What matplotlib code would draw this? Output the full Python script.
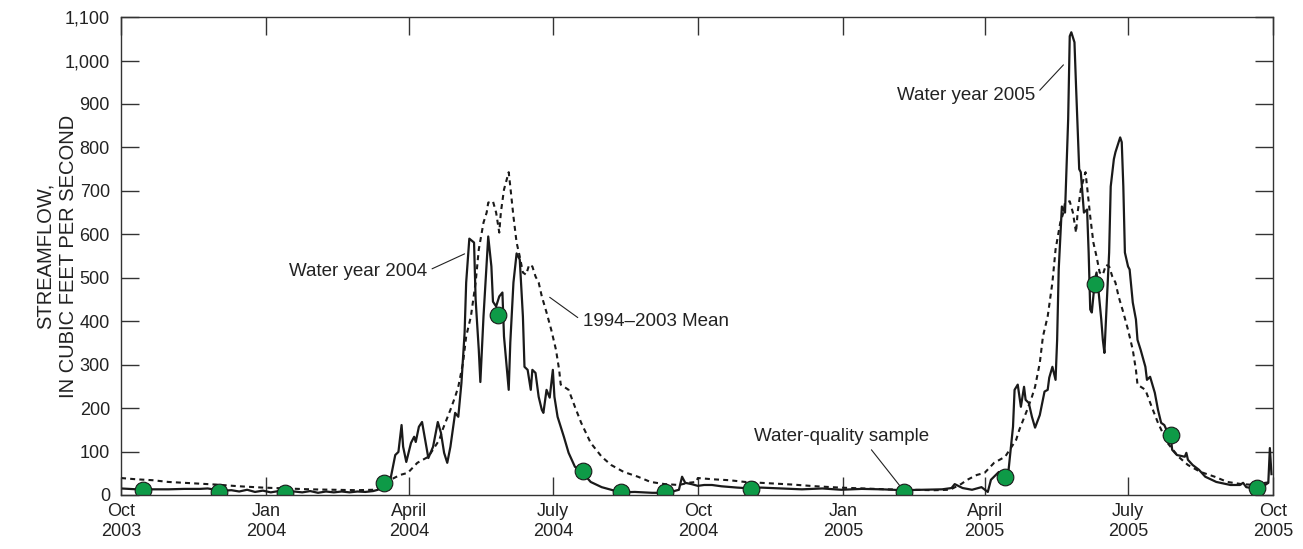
import numpy as np
import matplotlib
matplotlib.use('Agg')
import matplotlib.pyplot as plt
from matplotlib.ticker import FuncFormatter

plt.rcParams['font.family'] = ['Liberation Sans', 'DejaVu Sans']

start = np.datetime64('2003-10-01')

# daily streamflow, water years 2004-2005 (days after Oct 1, 2003)
flow_days = [0, 5, 10, 20, 30, 40, 50, 55, 60, 65, 70, 75, 80, 85, 90, 95, 100, 105, 110,
             115, 120, 125, 130, 135, 140, 145, 150, 155, 160, 163, 167, 171, 174, 176,
             178, 179, 181, 184, 186, 187, 189, 191, 193, 195, 198, 201, 203, 205, 207,
             209, 212, 214, 216, 218, 219, 221, 223, 224, 225, 227, 228, 230, 233, 235,
             236, 238, 240, 242, 243, 246, 247, 249, 251, 253, 255, 256, 258, 260, 261,
             263, 265, 267, 268, 270, 272, 274, 275, 277, 281, 284, 288, 293, 298, 305,
             311, 317, 326, 337, 345, 349, 354, 356, 358, 362, 366, 370, 375, 381, 391,
             400, 406, 419, 432, 445, 457, 470, 483, 496, 508, 521, 527, 529, 534, 540,
             546, 550, 552, 555, 557, 560, 563, 566, 567, 569, 571, 573, 574, 576, 578,
             580, 583, 586, 588, 589, 591, 593, 594, 595, 597, 599, 601, 602, 603, 605,
             606, 608, 609, 610, 611, 613, 614, 615, 616, 618, 619, 620, 622, 623, 624,
             625, 627, 628, 630, 631, 634, 635, 636, 637, 639, 640, 642, 644, 645, 647,
             650, 651, 653, 656, 658, 660, 662, 664, 666, 667, 670, 675, 676, 677, 680,
             684, 688, 695, 704, 710, 712, 714, 721, 726, 728, 729, 730]
flow_cfs = [15, 14, 13, 13, 13, 14, 14, 15, 12, 10, 11, 8, 12, 7, 10, 6, 9, 5, 8,
            6, 9, 5, 8, 6, 8, 6, 8, 7, 9, 12, 28, 37, 92, 99,
            161, 111, 76, 120, 134, 122, 157, 168, 127, 85, 111, 168, 143, 97, 74,
            111, 189, 180, 258, 373, 489, 590, 584, 581, 450, 334, 260, 411, 595, 526,
            445, 434, 457, 466, 365, 242, 351, 489, 556, 542, 411, 295, 288, 242, 288,
            281, 226, 196, 189, 242, 224, 288, 226, 180, 134, 97, 65, 51, 30, 18,
            12, 6, 7, 5, 5, 7, 12, 42, 28, 25, 21, 23, 23, 20, 17,
            15, 17, 15, 13, 15, 12, 14, 13, 11, 12, 13, 16, 25, 16, 12,
            18, 7, 35, 46, 53, 42, 51, 157, 242, 254, 203, 249, 219, 212, 180,
            155, 184, 238, 242, 270, 295, 265, 357, 519, 664, 650, 865, 1056, 1065, 1042,
            941, 750, 743, 697, 650, 657, 558, 427, 420, 496, 512, 480, 404, 357, 327,
            404, 558, 710, 773, 789, 823, 812, 710, 558, 526, 519, 443, 404, 357, 334,
            295, 265, 272, 235, 196, 166, 161, 145, 136, 104, 92, 88, 97, 81, 69,
            58, 42, 30, 23, 23, 28, 18, 14, 23, 28, 108, 48]

# 1994-2003 mean daily flow (day of water year)
mean_days = [0, 10, 20, 30, 45, 60, 75, 90, 105, 120, 135, 150, 160, 167, 171, 177, 182,
             188, 195, 202, 204, 209, 212, 214, 217, 219, 222, 225, 227, 230, 232, 233,
             236, 238, 240, 241, 243, 246, 247, 249, 251, 253, 255, 257, 259, 261, 263,
             265, 267, 270, 273, 276, 278, 279, 284, 288, 292, 298, 305, 311, 319, 328,
             336, 345, 354, 360, 365]
mean_cfs = [39, 36, 34, 30, 27, 24, 20, 17, 15, 13, 12, 11, 12, 25, 35, 46, 51,
            74, 88, 127, 150, 196, 226, 249, 304, 365, 411, 489, 565, 627, 650, 673,
            676, 650, 604, 650, 703, 743, 710, 641, 581, 549, 512, 507, 530, 526, 503,
            489, 457, 420, 380, 334, 288, 254, 242, 203, 166, 120, 88, 69, 53, 42,
            30, 25, 23, 28, 30]

# water-quality samples
sample_days = [14, 62, 104, 167, 239, 293, 317, 345, 400, 497, 561, 618, 666, 721]
sample_cfs = [12, 8, 5, 28, 415, 55, 8, 7, 14, 8, 42, 485, 138, 15]

tick_dates = ['2003-10-01', '2004-01-01', '2004-04-01', '2004-07-01', '2004-10-01',
              '2005-01-01', '2005-04-01', '2005-07-01', '2005-10-01']
tick_labels = ['Oct\n2003', 'Jan\n2004', 'April\n2004', 'July\n2004', 'Oct\n2004',
               'Jan\n2005', 'April\n2005', 'July\n2005', 'Oct\n2005']


def to_dates(days):
    return start + np.array(days).astype('timedelta64[D]')


flow_dates = to_dates(flow_days)
mean_dates = to_dates(list(mean_days) + [d + 366 for d in mean_days])
mean_vals = list(mean_cfs) + list(mean_cfs)
sample_dates = to_dates(sample_days)

fig = plt.figure(figsize=(13.03, 5.49), dpi=100)
ax = fig.add_axes([0.0929, 0.0984, 0.8841, 0.8705])

ax.plot(mean_dates, mean_vals, color='#1a1a1a', lw=1.5, ls=(0, (2.4, 2.0)))
ax.plot(flow_dates, flow_cfs, color='#1a1a1a', lw=1.6)
ax.plot(sample_dates, sample_cfs, 'o', ms=12, mfc='#0e9a47', mec='#1a1a1a', mew=0.8)

ax.set_xlim(np.datetime64('2003-10-01'), np.datetime64('2005-10-01'))
ax.set_ylim(0, 1100)
ax.set_xticks(np.array(tick_dates, dtype='datetime64[D]'))
ax.set_xticklabels(tick_labels)
ax.set_yticks(np.arange(0, 1101, 100))
ax.yaxis.set_major_formatter(FuncFormatter(lambda v, p: f'{int(v):,}'))
ax.tick_params(direction='in', length=13, width=1.0, top=True, right=True,
               labelsize=13, colors='#333333', labelcolor='#222222')
ax.tick_params(axis='x', pad=6)
ax.tick_params(axis='y', pad=8)
for s in ax.spines.values():
    s.set_linewidth(1.0)
    s.set_color('#333333')

ax.set_ylabel('STREAMFLOW,\nIN CUBIC FEET PER SECOND', fontsize=14.5,
              color='#222222', linespacing=1.3)
ax.yaxis.set_label_coords(-0.037, 0.5)

txt = dict(fontsize=13.5, color='#222222')
ln = dict(color='#222222', lw=0.8, shrinkA=2, shrinkB=0)
ax.annotate('Water year 2004', xy=(to_dates([218])[0], 555), xytext=(to_dates([194])[0], 515),
            ha='right', va='center',
            arrowprops=dict(arrowstyle='-', relpos=(1, 0.5), **ln), **txt)
ax.annotate('1994–2003 Mean', xy=(to_dates([272])[0], 455), xytext=(to_dates([293])[0], 400),
            ha='left', va='center',
            arrowprops=dict(arrowstyle='-', relpos=(0, 0.5), **ln), **txt)
ax.annotate('Water-quality sample', xy=(to_dates([494])[0], 22), xytext=(to_dates([457])[0], 135),
            ha='center', va='center',
            arrowprops=dict(arrowstyle='-', relpos=(0.65, 0), **ln), **txt)
ax.annotate('Water year 2005', xy=(to_dates([598])[0], 990), xytext=(to_dates([580])[0], 920),
            ha='right', va='center',
            arrowprops=dict(arrowstyle='-', relpos=(1, 0.5), **ln), **txt)

fig.savefig('out.png', dpi=100)
